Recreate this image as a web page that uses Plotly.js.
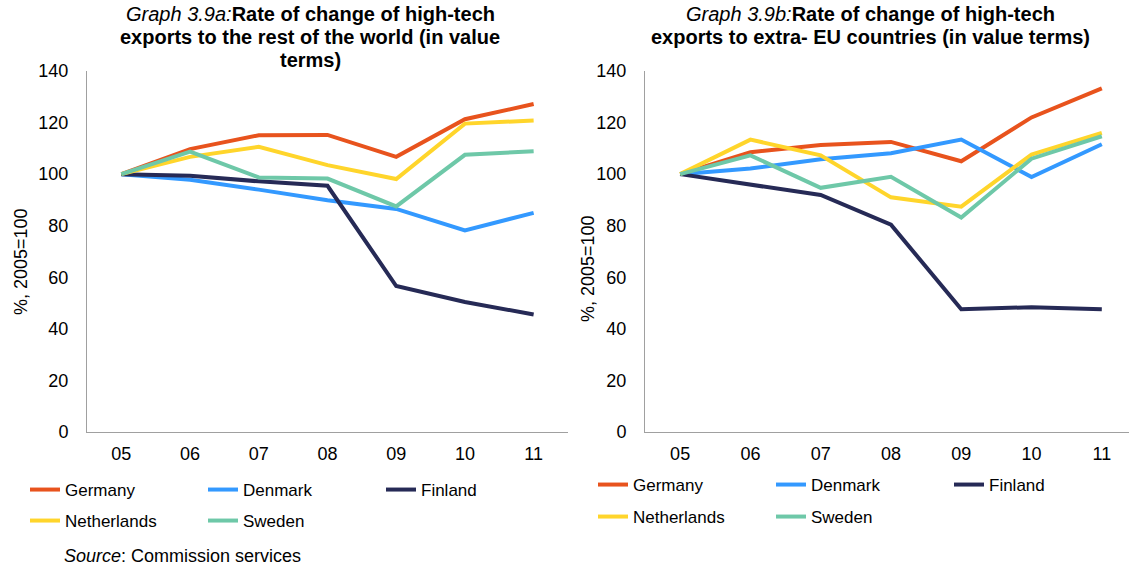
<!DOCTYPE html>
<html>
<head>
<meta charset="utf-8">
<script src="https://cdn.plot.ly/plotly-3.0.1.min.js"></script>
<style>html,body{margin:0;padding:0;background:#fff}#chart{width:1129px;height:567px}</style>
</head>
<body>
<div id="chart"></div>
<script>
// ---- data ----
var years = ['05', '06', '07', '08', '09', '10', '11'];
var yTicks = [0, 20, 40, 60, 80, 100, 120, 140];
var countries = ['Germany', 'Denmark', 'Finland', 'Netherlands', 'Sweden'];

// Graph 3.9a: exports to the rest of the world (2005=100)
var worldGermany     = [100, 109.7, 115.1, 115.2, 106.7, 121.3, 127.2];
var worldDenmark     = [100, 97.8, 94.0, 89.9, 86.5, 78.2, 85.0];
var worldFinland     = [100, 99.4, 97.2, 95.5, 56.6, 50.4, 45.6];
var worldNetherlands = [100, 106.7, 110.6, 103.5, 98.1, 119.6, 120.8];
var worldSweden      = [100, 108.7, 98.7, 98.3, 87.5, 107.5, 108.9];

// Graph 3.9b: exports to extra-EU countries (2005=100)
var extraGermany     = [100, 108.5, 111.3, 112.5, 105.0, 122.0, 133.3];
var extraDenmark     = [100, 102.2, 105.8, 108.1, 113.4, 98.9, 111.6];
var extraFinland     = [100, 95.9, 91.9, 80.4, 47.6, 48.4, 47.6];
var extraNetherlands = [100, 113.4, 107.3, 91.0, 87.4, 107.6, 116.0];
var extraSweden      = [100, 107.3, 94.7, 99.0, 83.2, 106.0, 114.7];

var titleA = ['<i>Graph 3.9a:</i><b>Rate of change of high-tech</b>', '<b>exports to the rest of the world (in value</b>', '<b>terms)</b>'];
var titleB = ['<i>Graph 3.9b:</i><b>Rate of change of high-tech</b>', '<b>exports to extra- EU countries (in value terms)</b>'];
var yTitle = '%, 2005=100';
var sourceText = '<i>Source</i>: Commission services';

// ---- styling ----
var colors = {Germany: '#E8531D', Denmark: '#3399FF', Finland: '#262A56', Netherlands: '#FFD52B', Sweden: '#6EC8A8'};
var FONT = 'Liberation Sans, Arial, sans-serif';
var W = 1129, H = 567;

var worldData = [worldGermany, worldDenmark, worldFinland, worldNetherlands, worldSweden];
var extraData = [extraGermany, extraDenmark, extraFinland, extraNetherlands, extraSweden];
var traces = [];
countries.forEach(function (c, i) {
  traces.push({x: years, y: worldData[i], name: c, type: 'scatter', mode: 'lines',
    line: {color: colors[c], width: 4}, xaxis: 'x', yaxis: 'y', legend: i < 3 ? 'legend' : 'legend2'});
});
countries.forEach(function (c, i) {
  traces.push({x: years, y: extraData[i], name: c, type: 'scatter', mode: 'lines',
    line: {color: colors[c], width: 4}, xaxis: 'x2', yaxis: 'y2', legend: i < 3 ? 'legend3' : 'legend4'});
});

function px(x) { return x / W; }
function py(y) { return 1 - y / H; }

var yDomain = [py(432), py(71)];
function yaxis(anchor) {
  return {domain: yDomain, range: [0, 140], tickvals: yTicks, ticktext: yTicks.map(String),
    showgrid: false, zeroline: false, showline: true, linecolor: '#A0A0A0', linewidth: 1,
    ticks: '', ticklabelstandoff: 14, tickfont: {family: FONT, size: 18, color: '#000'},
    anchor: anchor, fixedrange: true};
}
function xaxis(domain, range, anchor) {
  return {domain: domain, range: range, type: 'category', showgrid: false, zeroline: false,
    showline: true, linecolor: '#A0A0A0', linewidth: 1, ticks: '', ticklabelstandoff: 5,
    tickfont: {family: FONT, size: 18, color: '#000'}, anchor: anchor, fixedrange: true};
}
function legend(x, y) {
  return {orientation: 'h', x: px(x), y: py(y), xanchor: 'left', yanchor: 'middle',
    entrywidth: 133, entrywidthmode: 'pixels', font: {family: FONT, size: 17, color: '#000'},
    bgcolor: 'rgba(0,0,0,0)', borderwidth: 0, itemclick: false, itemdoubleclick: false};
}

var annotations = [];
function addTitle(lines, cx, ys) {
  lines.forEach(function (t, i) {
    annotations.push({text: t, x: px(cx), y: py(ys[i]), xref: 'paper', yref: 'paper',
      xanchor: 'center', yanchor: 'middle', showarrow: false, font: {family: FONT, size: 20, color: '#000'}});
  });
}
addTitle(titleA, 310, [14, 37, 60]);
addTitle(titleB, 870, [14, 37]);
annotations.push({text: yTitle, x: px(21), y: py(262), xref: 'paper', yref: 'paper', textangle: -90,
  xanchor: 'center', yanchor: 'middle', showarrow: false, font: {family: FONT, size: 18, color: '#000'}});
annotations.push({text: yTitle, x: px(588), y: py(269), xref: 'paper', yref: 'paper', textangle: -90,
  xanchor: 'center', yanchor: 'middle', showarrow: false, font: {family: FONT, size: 18, color: '#000'}});
annotations.push({text: sourceText, x: px(62), y: py(556), xref: 'paper', yref: 'paper',
  xanchor: 'left', yanchor: 'middle', showarrow: false, font: {family: FONT, size: 18, color: '#000'}});

var layout = {
  width: W, height: H, margin: {l: 0, r: 0, t: 0, b: 0},
  paper_bgcolor: '#fff', plot_bgcolor: '#fff', font: {family: FONT, color: '#000'},
  hovermode: false, showlegend: true,
  xaxis: xaxis([px(87), px(568)], [-0.5, 6.5], 'y'),
  yaxis: yaxis('x'),
  xaxis2: xaxis([px(645), 1], [-0.5, (W - 680) / 70.3], 'y2'),
  yaxis2: yaxis('x2'),
  legend: legend(25, 490),
  legend2: legend(25, 521),
  legend3: legend(593, 485),
  legend4: legend(593, 517),
  annotations: annotations
};

Plotly.newPlot('chart', traces, layout, {displayModeBar: false, staticPlot: true});
</script>
</body>
</html>
